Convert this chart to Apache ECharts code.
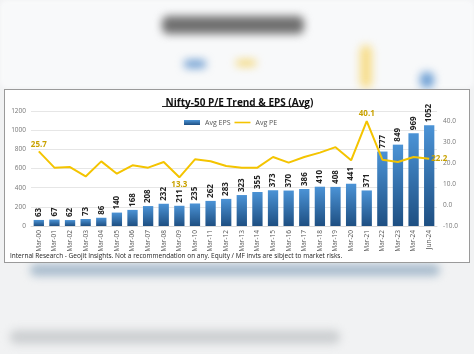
<!DOCTYPE html>
<html>
<head>
<meta charset="utf-8">
<script src="https://cdn.jsdelivr.net/npm/echarts@6/dist/echarts.min.js"></script>
<style>
  html, body { margin: 0; padding: 0; }
  body { width: 474px; height: 354px; overflow: hidden; background: #f1f2f3; position: relative; }
  .blur { position: absolute; filter: blur(4px); border-radius: 6px; }
  #chart {
    position: absolute; left: 4px; top: 89px; width: 464px; height: 172px;
    background: #fff; border: 1px solid #9a9a9a;
  }
</style>
</head>
<body>
<!-- blurred backdrop around the screenshot -->
<div class="blur" style="left:0;top:0;width:474px;height:88px;background:#f8f9fa;filter:blur(2px)"></div>
<div class="blur" style="left:162px;top:16px;width:142px;height:18px;background:#707070"></div>
<div class="blur" style="left:184px;top:60px;width:22px;height:8px;background:#6b9bd0"></div>
<div class="blur" style="left:236px;top:60px;width:20px;height:6px;background:#f3d36a"></div>
<div class="blur" style="left:360px;top:45px;width:12px;height:43px;background:#f7dd8a"></div>
<div class="blur" style="left:420px;top:72px;width:14px;height:16px;background:#6d9fd4"></div>
<div class="blur" style="left:30px;top:264px;width:410px;height:12px;background:#a9bccd"></div>
<div class="blur" style="left:10px;top:330px;width:330px;height:14px;background:#cdd0d2"></div>
<div id="chart"></div>
<script>
const categories = ['Mar-00', 'Mar-01', 'Mar-02', 'Mar-03', 'Mar-04', 'Mar-05', 'Mar-06', 'Mar-07',
  'Mar-08', 'Mar-09', 'Mar-10', 'Mar-11', 'Mar-12', 'Mar-13', 'Mar-14', 'Mar-15', 'Mar-16',
  'Mar-17', 'Mar-18', 'Mar-19', 'Mar-20', 'Mar-21', 'Mar-22', 'Mar-23', 'Mar-24', 'Jun-24']
const avgEps = [63, 67, 62, 73, 86, 140, 168, 208, 232, 211, 235, 262, 283, 323, 355, 373, 370,
  386, 410, 408, 441, 371, 777, 849, 969, 1052]
const avgPe = [25.7, 17.9, 18.2, 13.7, 20.9, 15.0, 19.0, 17.9, 20.6, 13.3, 21.9, 21.0, 18.7,
  17.9, 17.9, 23.0, 20.3, 23.0, 25.1, 27.7, 21.4, 40.1, 21.7, 20.6, 23.0, 22.2]
// which PE points carry a value label, and where it sits
const peLabelPos = { 0: 'top', 9: 'bottom', 21: 'top', 25: 'right' }

const chart = echarts.init(document.getElementById('chart'))
const font = '"Open Sans", "Noto Sans", sans-serif'
const gold = '#c9a200'

chart.setOption({
  animation: false,
  textStyle: { fontFamily: font },
  title: {
    text: 'Nifty-50 P/E Trend & EPS (Avg)',
    left: 229.5, top: 3, textAlign: 'center',
    textStyle: { fontSize: 10, fontWeight: 'bold', color: '#111', fontFamily: font },
  },
  graphic: [
    { type: 'line', shape: { x1: 157, y1: 16.5, x2: 302, y2: 16.5 }, style: { stroke: '#222', lineWidth: 1 } },
    {
      type: 'text', left: 5, top: 163,
      style: {
        text: 'Internal Research - Geojit Insights. Not a recommendation on any. Equity / MF invts are sibject to market risks.',
        fontSize: 6.5, fill: '#222', fontFamily: font,
      },
    },
  ],
  legend: {
    top: 24, left: 174,
    itemWidth: 16, itemHeight: 5, itemGap: 4,
    textStyle: { fontSize: 7, color: '#555' },
    data: [
      { name: 'Avg EPS', icon: 'rect' },
      { name: 'Avg PE', icon: 'path://M0,0 L10,0 L10,1 L0,1 Z' },
    ],
  },
  grid: { left: 26, right: 32, top: 21, bottom: 36 },
  xAxis: {
    type: 'category',
    data: categories,
    axisTick: { show: false },
    axisLine: { lineStyle: { color: '#d9d9d9' } },
    axisLabel: { rotate: 90, fontSize: 6.5, color: '#555', margin: 4, interval: 0 },
  },
  yAxis: [
    {
      type: 'value', min: 0, max: 1200, interval: 200,
      axisLabel: { fontSize: 6.5, color: '#777', margin: 5, formatter: v => String(v) },
      splitLine: { lineStyle: { color: '#e6e6e6' } },
    },
    {
      type: 'value', min: -10, max: 45, interval: 10,
      axisLabel: {
        fontSize: 6.5, color: '#777', margin: 6,
        formatter: v => (v > 40 ? '' : v.toFixed(1)),
      },
      splitLine: { show: false },
    },
  ],
  series: [
    {
      name: 'Avg EPS',
      type: 'bar',
      data: avgEps,
      barWidth: '66%',
      itemStyle: {
        color: new echarts.graphic.LinearGradient(0, 0, 0, 1, [
          { offset: 0, color: '#4b93d6' },
          { offset: 1, color: '#1e4f82' },
        ]),
      },
    },
    {
      // vertical value labels above the bars
      type: 'custom',
      silent: true,
      z: 5,
      data: avgEps.map((v, i) => [i, v]),
      renderItem(params, api) {
        const pt = api.coord([api.value(0), api.value(1)])
        return {
          type: 'text',
          x: pt[0], y: pt[1] - 3,
          rotation: Math.PI / 2,
          style: {
            text: String(api.value(1)),
            align: 'left', verticalAlign: 'middle',
            fontSize: 8, fontWeight: 'bold', fill: '#222', fontFamily: font,
          },
        }
      },
    },
    {
      name: 'Avg PE',
      type: 'line',
      yAxisIndex: 1,
      z: 4,
      data: avgPe.map((v, i) => ({
        value: v,
        label: peLabelPos[i]
          ? { show: true, position: peLabelPos[i], distance: peLabelPos[i] === 'right' ? 2 : 3 }
          : { show: false },
      })),
      symbol: 'circle', symbolSize: 0.1,
      lineStyle: { color: '#f4c400', width: 2 },
      itemStyle: { color: '#f4c400' },
      label: { fontSize: 8, color: gold, fontWeight: 'bold', formatter: p => p.value.toFixed(1) },
    },
  ],
})
</script>
</body>
</html>
